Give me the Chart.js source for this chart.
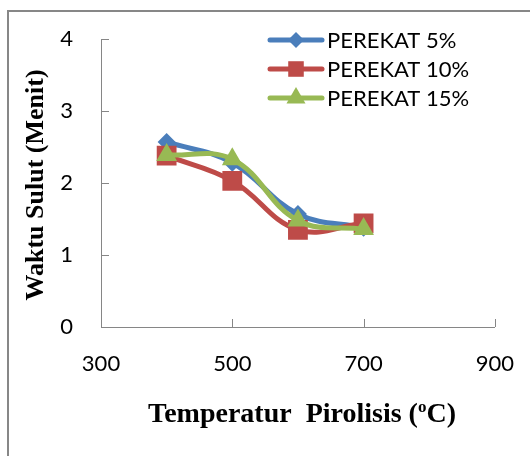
<!DOCTYPE html>
<html>
<head>
<meta charset="utf-8">
<script src="https://cdn.jsdelivr.net/npm/chart.js@4.4.0/dist/chart.umd.min.js"></script>
<style>
  html, body { margin: 0; padding: 0; background: #fff; }
  #wrap { width: 530px; height: 456px; }
</style>
</head>
<body>
<div id="wrap"><canvas id="chart" width="530" height="456"></canvas></div>
<script>
const temperatures = [400, 500, 600, 700];
const perekat5  = [2.57, 2.28, 1.57, 1.38];
const perekat10 = [2.38, 2.03, 1.35, 1.44];
const perekat15 = [2.39, 2.33, 1.48, 1.36];
const seriesNames = ['PEREKAT 5%', 'PEREKAT 10%', 'PEREKAT 15%'];
const xTicks = [300, 500, 700, 900];
const yTicks = [0, 1, 2, 3, 4];

const blue  = '#4A7EBB';
const red   = '#BE4B48';
const green = '#98B954';
const axisGray = '#868686';
const labelFont = 'Lato, "Open Sans", sans-serif';
const titleFont = '"Liberation Serif", "Times New Roman", serif';

const toPoints = ys => temperatures.map((x, i) => ({ x, y: ys[i] }));

const series = [
    { label: seriesNames[0], data: toPoints(perekat5),  color: blue,  style: 'rectRot', radius: 9,  order: 2 },
    { label: seriesNames[1], data: toPoints(perekat10), color: red,   style: 'rect',    radius: 14, order: 1 },
    { label: seriesNames[2], data: toPoints(perekat15), color: green, style: 'triangle', radius: 12, order: 0 }
];

// border, inside ticks, axis titles and the excel-style legend
const decor = {
    id: 'decor',
    beforeDraw(chart) {
        const ctx = chart.ctx;
        ctx.save();
        ctx.fillStyle = '#fff';
        ctx.fillRect(0, 0, chart.width, chart.height);
        ctx.strokeStyle = '#878787';
        ctx.lineWidth = 2;
        ctx.strokeRect(8, 11, 700, 700);
        ctx.restore();
    },
    beforeDatasetsDraw(chart) {
        const ctx = chart.ctx;
        const xs = chart.scales.x, ys = chart.scales.y;
        const area = chart.chartArea;
        ctx.save();
        ctx.strokeStyle = axisGray;
        ctx.lineWidth = 1;
        ctx.beginPath();
        yTicks.forEach(v => {
            const py = Math.round(ys.getPixelForValue(v)) + 0.5;
            ctx.moveTo(area.left, py);
            ctx.lineTo(area.left + 8, py);
        });
        xTicks.slice(1).forEach(v => {
            const px = Math.round(xs.getPixelForValue(v)) + 0.5;
            ctx.moveTo(px, area.bottom);
            ctx.lineTo(px, area.bottom - 8);
        });
        ctx.stroke();
        ctx.restore();
    },
    afterDraw(chart) {
        const ctx = chart.ctx;
        ctx.save();
        ctx.fillStyle = '#000';

        // y title
        ctx.font = 'bold 26px ' + titleFont;
        ctx.textAlign = 'center';
        ctx.textBaseline = 'middle';
        ctx.save();
        ctx.translate(36, 185);
        ctx.rotate(-Math.PI / 2);
        ctx.fillText('Waktu Sulut (Menit)', 0, 0);
        ctx.restore();

        // x title with superscript o
        const a = 'Temperatur  Pirolisis (', sup = 'o', b = 'C)';
        ctx.textAlign = 'left';
        ctx.font = 'bold 28px ' + titleFont;
        const wa = ctx.measureText(a).width, wb = ctx.measureText(b).width;
        ctx.font = 'bold 17px ' + titleFont;
        const ws = ctx.measureText(sup).width;
        let x0 = 302 - (wa + ws + wb) / 2;
        const ty = 415;
        ctx.font = 'bold 28px ' + titleFont;
        ctx.fillText(a, x0, ty);
        ctx.font = 'bold 17px ' + titleFont;
        ctx.fillText(sup, x0 + wa, ty - 7);
        ctx.font = 'bold 28px ' + titleFont;
        ctx.fillText(b, x0 + wa + ws, ty);

        // legend
        chart.data.datasets.forEach((ds, i) => {
            const ly = 40 + i * 29;
            ctx.strokeStyle = ds.borderColor;
            ctx.lineWidth = 5;
            ctx.lineCap = 'round';
            ctx.beginPath();
            ctx.moveTo(270, ly);
            ctx.lineTo(322, ly);
            ctx.stroke();
            ctx.fillStyle = ds.borderColor;
            Chart.helpers.drawPoint(ctx, {
                pointStyle: ds.pointStyle,
                radius: ds.legendRadius,
                rotation: 0,
                borderWidth: 0
            }, 296, ly);
            ctx.fillStyle = '#000';
            ctx.font = '22px ' + labelFont;
            ctx.textBaseline = 'middle';
            ctx.fillText(ds.label, 327, ly + 1);
        });
        ctx.restore();
    }
};

new Chart(document.getElementById('chart'), {
    type: 'line',
    data: {
        datasets: series.map(s => ({
            label: s.label,
            data: s.data,
            borderColor: s.color,
            backgroundColor: s.color,
            borderWidth: 5,
            tension: 0.4,
            pointStyle: s.style,
            pointRadius: s.radius,
            legendRadius: s.style === 'rect' ? 11 : s.radius - 1,
            pointBorderWidth: 0,
            fill: false,
            order: s.order
        }))
    },
    options: {
        responsive: false,
        animation: false,
        layout: { padding: { left: 0, right: 33, top: 39, bottom: 0 } },
        plugins: {
            legend: { display: false },
            tooltip: { enabled: false }
        },
        scales: {
            x: {
                type: 'linear',
                min: 300,
                max: 900,
                afterBuildTicks: s => { s.ticks = xTicks.map(v => ({ value: v })); },
                afterFit: s => { s.height = 129; },
                grid: { display: false },
                border: { display: true, color: axisGray, width: 1 },
                ticks: { padding: 16, color: '#000', font: { family: labelFont, size: 22 } }
            },
            y: {
                min: 0,
                max: 4,
                afterBuildTicks: s => { s.ticks = yTicks.map(v => ({ value: v })); },
                afterFit: s => { s.width = 101; },
                grid: { display: false },
                border: { display: true, color: axisGray, width: 1 },
                ticks: { padding: 20, color: '#000', font: { family: labelFont, size: 22 } }
            }
        }
    },
    plugins: [decor]
});
</script>
</body>
</html>
